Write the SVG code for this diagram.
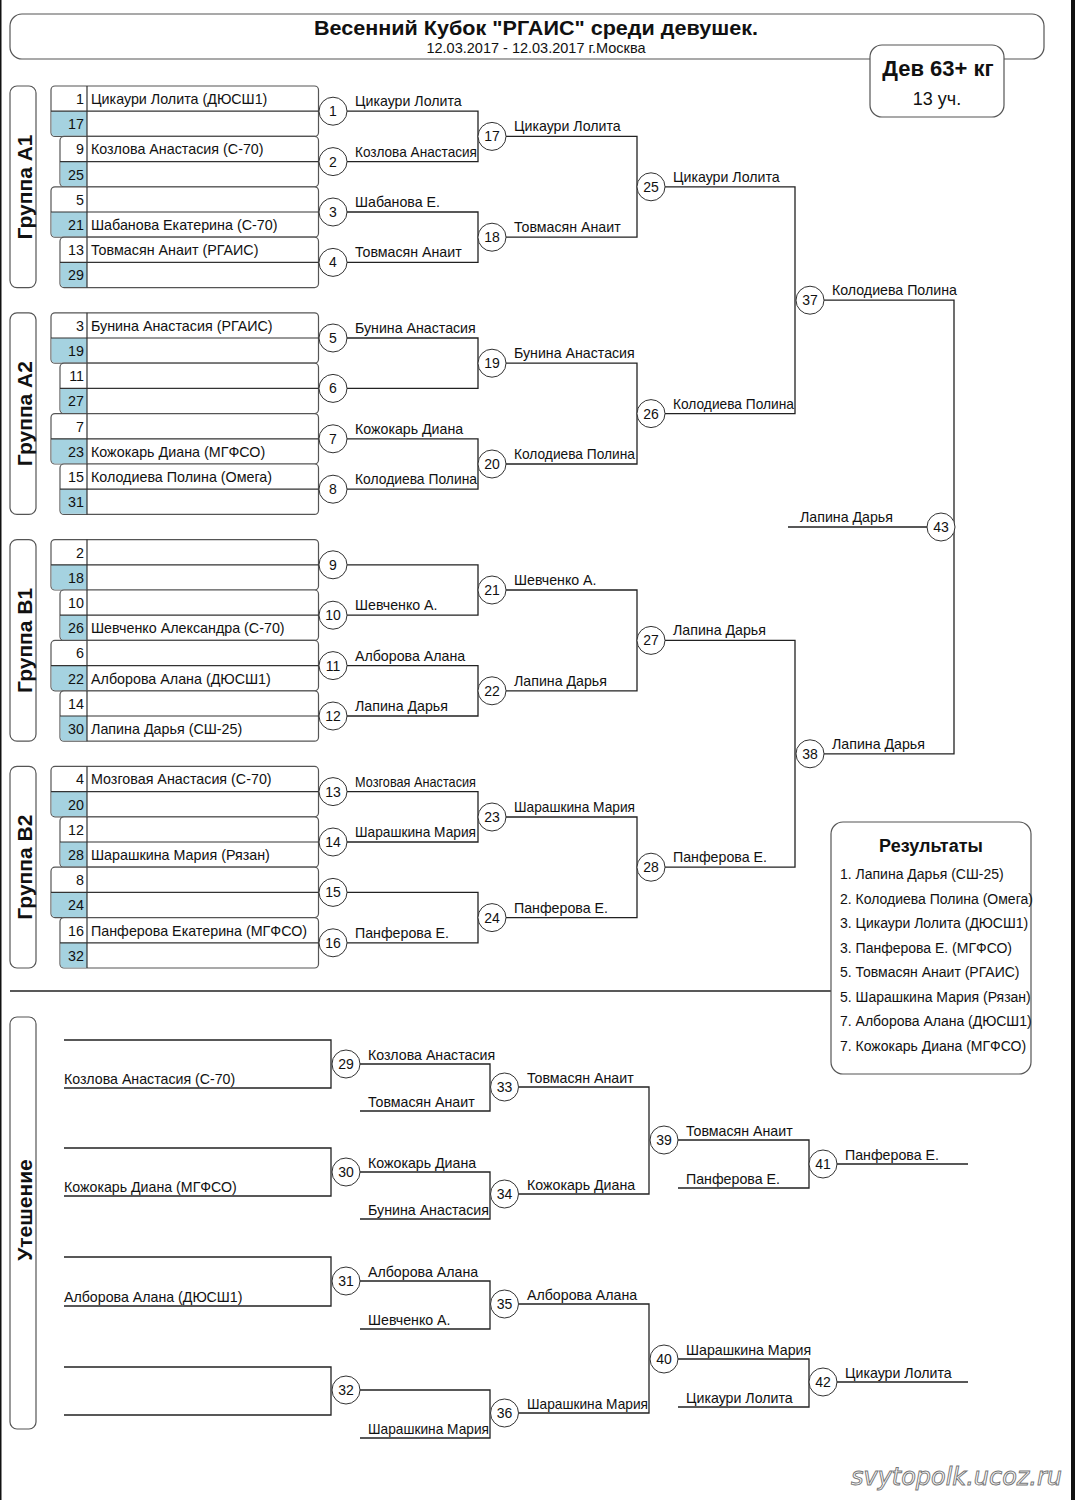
<svg xmlns="http://www.w3.org/2000/svg" width="1075" height="1500" viewBox="0 0 1075 1500">
<style>
text{font-family:"Liberation Sans",Arial,sans-serif;fill:#111}
.ln{fill:none;stroke:#222;stroke-width:1.3}
.bx{fill:#fff;stroke:#555;stroke-width:1.2}
.gb{fill:#fff;stroke:#555;stroke-width:1.2}
.bl{fill:#a5d2e0}
.dv{fill:none;stroke:#333;stroke-width:1.2}
.cir{fill:#fff;stroke:#333;stroke-width:1}
.nm{font-size:14.3px}
.rs{font-size:14px}
.num{font-size:14.3px;text-anchor:end}
.cn{font-size:14px;text-anchor:middle}
.lb{font-size:14.2px}
.gl{font-size:21px;font-weight:bold;text-anchor:middle}
</style>
<rect x="0" y="0" width="1075" height="1500" fill="#fff"/>
<rect x="0" y="0" width="1.5" height="1500" fill="#111"/>
<rect x="1071" y="0" width="4" height="1500" fill="#111"/>

<g id="header">
<rect x="10" y="14" width="1034" height="45" rx="12" fill="#fff" stroke="#555" stroke-width="1.2"/>
<text x="536" y="35" font-size="21" font-weight="bold" text-anchor="middle" textLength="444" lengthAdjust="spacingAndGlyphs">Весенний Кубок "РГАИС" среди девушек.</text>
<text x="536" y="53" font-size="14.5" text-anchor="middle">12.03.2017 - 12.03.2017 г.Москва</text>
</g>
<g id="weight">
<rect x="870" y="45" width="134" height="72" rx="12" fill="#fff" stroke="#555" stroke-width="1.2"/>
<text x="938" y="76" font-size="22" font-weight="bold" text-anchor="middle">Дев 63+ кг</text>
<text x="937" y="105" font-size="18" text-anchor="middle">13 уч.</text>
</g>

<g id="group-labels">
<rect class="gb" x="10" y="86" width="26" height="201.6" rx="7"/>
<text class="gl" transform="translate(31.5,187) rotate(-90)">Группа А1</text>
<rect class="gb" x="10" y="312.8" width="26" height="201.6" rx="7"/>
<text class="gl" transform="translate(31.5,413.6) rotate(-90)">Группа А2</text>
<rect class="gb" x="10" y="539.6" width="26" height="201.6" rx="7"/>
<text class="gl" transform="translate(31.5,640.4) rotate(-90)">Группа В1</text>
<rect class="gb" x="10" y="766.4" width="26" height="201.6" rx="7"/>
<text class="gl" transform="translate(31.5,867.2) rotate(-90)">Группа В2</text>
<rect class="gb" x="10" y="1017" width="26" height="412" rx="7"/>
<text class="gl" transform="translate(31.5,1210) rotate(-90)">Утешение</text>
</g>

<g id="group-A1">
<rect class="bx" x="51" y="86" width="267.5" height="50.4" rx="4"/>
<path class="bl" d="M51.6 111.2H87V135.8H55Q51.6 135.8 51.6 132.4Z"/>
<path class="dv" d="M51 111.2H318.5M87 86V136.4"/>
<text class="num" x="84" y="104">1</text><text class="nm" x="91" y="104">Цикаури Лолита (ДЮСШ1)</text>
<text class="num" x="84" y="129.2">17</text>
<rect class="bx" x="60" y="136.4" width="258.5" height="50.4" rx="4"/>
<path class="bl" d="M60.6 161.6H87V186.2H64Q60.6 186.2 60.6 182.8Z"/>
<path class="dv" d="M60 161.6H318.5M87 136.4V186.8"/>
<text class="num" x="84" y="154.4">9</text><text class="nm" x="91" y="154.4">Козлова Анастасия (С-70)</text>
<text class="num" x="84" y="179.6">25</text>
<rect class="bx" x="51" y="186.8" width="267.5" height="50.4" rx="4"/>
<path class="bl" d="M51.6 212H87V236.6H55Q51.6 236.6 51.6 233.2Z"/>
<path class="dv" d="M51 212H318.5M87 186.8V237.2"/>
<text class="num" x="84" y="204.8">5</text>
<text class="num" x="84" y="230">21</text><text class="nm" x="91" y="230">Шабанова Екатерина (С-70)</text>
<rect class="bx" x="60" y="237.2" width="258.5" height="50.4" rx="4"/>
<path class="bl" d="M60.6 262.4H87V287H64Q60.6 287 60.6 283.6Z"/>
<path class="dv" d="M60 262.4H318.5M87 237.2V287.6"/>
<text class="num" x="84" y="255.2">13</text><text class="nm" x="91" y="255.2">Товмасян Анаит (РГАИС)</text>
<text class="num" x="84" y="280.4">29</text>
</g>

<g id="group-A2">
<rect class="bx" x="51" y="312.8" width="267.5" height="50.4" rx="4"/>
<path class="bl" d="M51.6 338H87V362.6H55Q51.6 362.6 51.6 359.2Z"/>
<path class="dv" d="M51 338H318.5M87 312.8V363.2"/>
<text class="num" x="84" y="330.8">3</text><text class="nm" x="91" y="330.8">Бунина Анастасия (РГАИС)</text>
<text class="num" x="84" y="356">19</text>
<rect class="bx" x="60" y="363.2" width="258.5" height="50.4" rx="4"/>
<path class="bl" d="M60.6 388.4H87V413H64Q60.6 413 60.6 409.6Z"/>
<path class="dv" d="M60 388.4H318.5M87 363.2V413.6"/>
<text class="num" x="84" y="381.2">11</text>
<text class="num" x="84" y="406.4">27</text>
<rect class="bx" x="51" y="413.6" width="267.5" height="50.4" rx="4"/>
<path class="bl" d="M51.6 438.8H87V463.4H55Q51.6 463.4 51.6 460Z"/>
<path class="dv" d="M51 438.8H318.5M87 413.6V464"/>
<text class="num" x="84" y="431.6">7</text>
<text class="num" x="84" y="456.8">23</text><text class="nm" x="91" y="456.8">Кожокарь Диана (МГФСО)</text>
<rect class="bx" x="60" y="464" width="258.5" height="50.4" rx="4"/>
<path class="bl" d="M60.6 489.2H87V513.8H64Q60.6 513.8 60.6 510.4Z"/>
<path class="dv" d="M60 489.2H318.5M87 464V514.4"/>
<text class="num" x="84" y="482">15</text><text class="nm" x="91" y="482">Колодиева Полина (Омега)</text>
<text class="num" x="84" y="507.2">31</text>
</g>

<g id="group-B1">
<rect class="bx" x="51" y="539.6" width="267.5" height="50.4" rx="4"/>
<path class="bl" d="M51.6 564.8H87V589.4H55Q51.6 589.4 51.6 586Z"/>
<path class="dv" d="M51 564.8H318.5M87 539.6V590"/>
<text class="num" x="84" y="557.6">2</text>
<text class="num" x="84" y="582.8">18</text>
<rect class="bx" x="60" y="590" width="258.5" height="50.4" rx="4"/>
<path class="bl" d="M60.6 615.2H87V639.8H64Q60.6 639.8 60.6 636.4Z"/>
<path class="dv" d="M60 615.2H318.5M87 590V640.4"/>
<text class="num" x="84" y="608">10</text>
<text class="num" x="84" y="633.2">26</text><text class="nm" x="91" y="633.2">Шевченко Александра (С-70)</text>
<rect class="bx" x="51" y="640.4" width="267.5" height="50.4" rx="4"/>
<path class="bl" d="M51.6 665.6H87V690.2H55Q51.6 690.2 51.6 686.8Z"/>
<path class="dv" d="M51 665.6H318.5M87 640.4V690.8"/>
<text class="num" x="84" y="658.4">6</text>
<text class="num" x="84" y="683.6">22</text><text class="nm" x="91" y="683.6">Алборова Алана (ДЮСШ1)</text>
<rect class="bx" x="60" y="690.8" width="258.5" height="50.4" rx="4"/>
<path class="bl" d="M60.6 716H87V740.6H64Q60.6 740.6 60.6 737.2Z"/>
<path class="dv" d="M60 716H318.5M87 690.8V741.2"/>
<text class="num" x="84" y="708.8">14</text>
<text class="num" x="84" y="734">30</text><text class="nm" x="91" y="734">Лапина Дарья (СШ-25)</text>
</g>

<g id="group-B2">
<rect class="bx" x="51" y="766.4" width="267.5" height="50.4" rx="4"/>
<path class="bl" d="M51.6 791.6H87V816.2H55Q51.6 816.2 51.6 812.8Z"/>
<path class="dv" d="M51 791.6H318.5M87 766.4V816.8"/>
<text class="num" x="84" y="784.4">4</text><text class="nm" x="91" y="784.4">Мозговая Анастасия (С-70)</text>
<text class="num" x="84" y="809.6">20</text>
<rect class="bx" x="60" y="816.8" width="258.5" height="50.4" rx="4"/>
<path class="bl" d="M60.6 842H87V866.6H64Q60.6 866.6 60.6 863.2Z"/>
<path class="dv" d="M60 842H318.5M87 816.8V867.2"/>
<text class="num" x="84" y="834.8">12</text>
<text class="num" x="84" y="860">28</text><text class="nm" x="91" y="860">Шарашкина Мария (Рязан)</text>
<rect class="bx" x="51" y="867.2" width="267.5" height="50.4" rx="4"/>
<path class="bl" d="M51.6 892.4H87V917H55Q51.6 917 51.6 913.6Z"/>
<path class="dv" d="M51 892.4H318.5M87 867.2V917.6"/>
<text class="num" x="84" y="885.2">8</text>
<text class="num" x="84" y="910.4">24</text>
<rect class="bx" x="60" y="917.6" width="258.5" height="50.4" rx="4"/>
<path class="bl" d="M60.6 942.8H87V967.4H64Q60.6 967.4 60.6 964Z"/>
<path class="dv" d="M60 942.8H318.5M87 917.6V968"/>
<text class="num" x="84" y="935.6">16</text><text class="nm" x="91" y="935.6">Панферова Екатерина (МГФСО)</text>
<text class="num" x="84" y="960.8">32</text>
</g>

<g id="connectors">
<path class="ln" d="M347 111.2H478V161.6H347M347 212H478V262.4H347M347 338H478V388.4H347M347 438.8H478V489.2H347M347 564.8H478V615.2H347M347 665.6H478V716H347M347 791.6H478V842H347M347 892.4H478V942.8H347"/>
<path class="ln" d="M506 136.4H637V237.2H506M506 363.2H637V464H506M506 590H637V690.8H506M506 817H637V917.6H506"/>
<path class="ln" d="M665 186.8H795V413.6H665M665 640.4H795V867.2H665"/>
<path class="ln" d="M824 300.2H954V753.8H824M788 527H927"/>
<path class="ln" d="M10 991H831"/>
<path class="ln" d="M64 1040H331V1088H64M64 1148H331V1196H64M64 1257H331V1306H64M64 1367H331V1415H64"/>
<path class="ln" d="M360 1064H490V1111H360M360 1172H490V1219H360M360 1281H490V1329H360M360 1390H490V1438H360"/>
<path class="ln" d="M519 1087H649V1194H519M519 1304H649V1413H519"/>
<path class="ln" d="M678 1140H809V1188H678M678 1359H809V1407H678"/>
<path class="ln" d="M837 1164H968M837 1382H968"/>
</g>

<g id="labels">
<text class="lb" x="355" y="106.2">Цикаури Лолита</text>
<text class="lb" x="355" y="156.6" textLength="122" lengthAdjust="spacingAndGlyphs">Козлова Анастасия</text>
<text class="lb" x="355" y="207">Шабанова Е.</text>
<text class="lb" x="355" y="257.4">Товмасян Анаит</text>
<text class="lb" x="355" y="333">Бунина Анастасия</text>
<text class="lb" x="355" y="433.8">Кожокарь Диана</text>
<text class="lb" x="355" y="484.2" textLength="122" lengthAdjust="spacingAndGlyphs">Колодиева Полина</text>
<text class="lb" x="355" y="610.2">Шевченко А.</text>
<text class="lb" x="355" y="660.6">Алборова Алана</text>
<text class="lb" x="355" y="711">Лапина Дарья</text>
<text class="lb" x="355" y="786.6" textLength="121" lengthAdjust="spacingAndGlyphs">Мозговая Анастасия</text>
<text class="lb" x="355" y="837" textLength="121" lengthAdjust="spacingAndGlyphs">Шарашкина Мария</text>
<text class="lb" x="355" y="937.8">Панферова Е.</text>
<text class="lb" x="514" y="131.4">Цикаури Лолита</text>
<text class="lb" x="514" y="232.2">Товмасян Анаит</text>
<text class="lb" x="514" y="358.2">Бунина Анастасия</text>
<text class="lb" x="514" y="459" textLength="121" lengthAdjust="spacingAndGlyphs">Колодиева Полина</text>
<text class="lb" x="514" y="585">Шевченко А.</text>
<text class="lb" x="514" y="685.8">Лапина Дарья</text>
<text class="lb" x="514" y="812" textLength="121" lengthAdjust="spacingAndGlyphs">Шарашкина Мария</text>
<text class="lb" x="514" y="912.6">Панферова Е.</text>
<text class="lb" x="673" y="181.8">Цикаури Лолита</text>
<text class="lb" x="673" y="408.6" textLength="121" lengthAdjust="spacingAndGlyphs">Колодиева Полина</text>
<text class="lb" x="673" y="635.4">Лапина Дарья</text>
<text class="lb" x="673" y="862.2">Панферова Е.</text>
<text class="lb" x="832" y="295.2">Колодиева Полина</text>
<text class="lb" x="832" y="748.8">Лапина Дарья</text>
<text class="lb" x="800" y="522">Лапина Дарья</text>

<text class="lb" x="64" y="1084">Козлова Анастасия (С-70)</text>
<text class="lb" x="64" y="1192">Кожокарь Диана (МГФСО)</text>
<text class="lb" x="64" y="1302">Алборова Алана (ДЮСШ1)</text>
<text class="lb" x="368" y="1060">Козлова Анастасия</text>
<text class="lb" x="368" y="1107">Товмасян Анаит</text>
<text class="lb" x="368" y="1168">Кожокарь Диана</text>
<text class="lb" x="368" y="1215" textLength="121" lengthAdjust="spacingAndGlyphs">Бунина Анастасия</text>
<text class="lb" x="368" y="1277">Алборова Алана</text>
<text class="lb" x="368" y="1325">Шевченко А.</text>
<text class="lb" x="368" y="1434" textLength="121" lengthAdjust="spacingAndGlyphs">Шарашкина Мария</text>
<text class="lb" x="527" y="1083">Товмасян Анаит</text>
<text class="lb" x="527" y="1190">Кожокарь Диана</text>
<text class="lb" x="527" y="1300">Алборова Алана</text>
<text class="lb" x="527" y="1409" textLength="121" lengthAdjust="spacingAndGlyphs">Шарашкина Мария</text>
<text class="lb" x="686" y="1136">Товмасян Анаит</text>
<text class="lb" x="686" y="1184">Панферова Е.</text>
<text class="lb" x="686" y="1355">Шарашкина Мария</text>
<text class="lb" x="686" y="1403">Цикаури Лолита</text>
<text class="lb" x="845" y="1160">Панферова Е.</text>
<text class="lb" x="845" y="1378">Цикаури Лолита</text>
</g>

<g id="circles">
<circle class="cir" cx="333" cy="111.2" r="14"/><text class="cn" x="333" y="116.2">1</text>
<circle class="cir" cx="333" cy="161.6" r="14"/><text class="cn" x="333" y="166.6">2</text>
<circle class="cir" cx="333" cy="212" r="14"/><text class="cn" x="333" y="217">3</text>
<circle class="cir" cx="333" cy="262.4" r="14"/><text class="cn" x="333" y="267.4">4</text>
<circle class="cir" cx="333" cy="338" r="14"/><text class="cn" x="333" y="343">5</text>
<circle class="cir" cx="333" cy="388.4" r="14"/><text class="cn" x="333" y="393.4">6</text>
<circle class="cir" cx="333" cy="438.8" r="14"/><text class="cn" x="333" y="443.8">7</text>
<circle class="cir" cx="333" cy="489.2" r="14"/><text class="cn" x="333" y="494.2">8</text>
<circle class="cir" cx="333" cy="564.8" r="14"/><text class="cn" x="333" y="569.8">9</text>
<circle class="cir" cx="333" cy="615.2" r="14"/><text class="cn" x="333" y="620.2">10</text>
<circle class="cir" cx="333" cy="665.6" r="14"/><text class="cn" x="333" y="670.6">11</text>
<circle class="cir" cx="333" cy="716" r="14"/><text class="cn" x="333" y="721">12</text>
<circle class="cir" cx="333" cy="791.6" r="14"/><text class="cn" x="333" y="796.6">13</text>
<circle class="cir" cx="333" cy="842" r="14"/><text class="cn" x="333" y="847">14</text>
<circle class="cir" cx="333" cy="892.4" r="14"/><text class="cn" x="333" y="897.4">15</text>
<circle class="cir" cx="333" cy="942.8" r="14"/><text class="cn" x="333" y="947.8">16</text>
<circle class="cir" cx="492" cy="136.4" r="14"/><text class="cn" x="492" y="141.4">17</text>
<circle class="cir" cx="492" cy="237.2" r="14"/><text class="cn" x="492" y="242.2">18</text>
<circle class="cir" cx="492" cy="363.2" r="14"/><text class="cn" x="492" y="368.2">19</text>
<circle class="cir" cx="492" cy="464" r="14"/><text class="cn" x="492" y="469">20</text>
<circle class="cir" cx="492" cy="590" r="14"/><text class="cn" x="492" y="595">21</text>
<circle class="cir" cx="492" cy="690.8" r="14"/><text class="cn" x="492" y="695.8">22</text>
<circle class="cir" cx="492" cy="817" r="14"/><text class="cn" x="492" y="822">23</text>
<circle class="cir" cx="492" cy="917.6" r="14"/><text class="cn" x="492" y="922.6">24</text>
<circle class="cir" cx="651" cy="186.8" r="14"/><text class="cn" x="651" y="191.8">25</text>
<circle class="cir" cx="651" cy="413.6" r="14"/><text class="cn" x="651" y="418.6">26</text>
<circle class="cir" cx="651" cy="640.4" r="14"/><text class="cn" x="651" y="645.4">27</text>
<circle class="cir" cx="651" cy="867.2" r="14"/><text class="cn" x="651" y="872.2">28</text>
<circle class="cir" cx="810" cy="300.2" r="14"/><text class="cn" x="810" y="305.2">37</text>
<circle class="cir" cx="810" cy="753.8" r="14"/><text class="cn" x="810" y="758.8">38</text>
<circle class="cir" cx="941" cy="527" r="14"/><text class="cn" x="941" y="532">43</text>
<circle class="cir" cx="346" cy="1064" r="14"/><text class="cn" x="346" y="1069">29</text>
<circle class="cir" cx="346" cy="1172" r="14"/><text class="cn" x="346" y="1177">30</text>
<circle class="cir" cx="346" cy="1281" r="14"/><text class="cn" x="346" y="1286">31</text>
<circle class="cir" cx="346" cy="1390" r="14"/><text class="cn" x="346" y="1395">32</text>
<circle class="cir" cx="504.5" cy="1087" r="14"/><text class="cn" x="504.5" y="1092">33</text>
<circle class="cir" cx="504.5" cy="1194" r="14"/><text class="cn" x="504.5" y="1199">34</text>
<circle class="cir" cx="504.5" cy="1304" r="14"/><text class="cn" x="504.5" y="1309">35</text>
<circle class="cir" cx="504.5" cy="1413" r="14"/><text class="cn" x="504.5" y="1418">36</text>
<circle class="cir" cx="664" cy="1140" r="14"/><text class="cn" x="664" y="1145">39</text>
<circle class="cir" cx="664" cy="1359" r="14"/><text class="cn" x="664" y="1364">40</text>
<circle class="cir" cx="823" cy="1164" r="14"/><text class="cn" x="823" y="1169">41</text>
<circle class="cir" cx="823" cy="1382" r="14"/><text class="cn" x="823" y="1387">42</text>
</g>

<g id="results">
<rect x="831" y="822" width="200" height="252" rx="12" fill="#fff" stroke="#555" stroke-width="1.2"/>
<text x="931" y="852" font-size="18" font-weight="bold" text-anchor="middle">Результаты</text>
<text class="rs" x="840" y="879">1. Лапина Дарья (СШ-25)</text>
<text class="rs" x="840" y="904">2. Колодиева Полина (Омега)</text>
<text class="rs" x="840" y="928">3. Цикаури Лолита (ДЮСШ1)</text>
<text class="rs" x="840" y="953">3. Панферова Е. (МГФСО)</text>
<text class="rs" x="840" y="977">5. Товмасян Анаит (РГАИС)</text>
<text class="rs" x="840" y="1002">5. Шарашкина Мария (Рязан)</text>
<text class="rs" x="840" y="1026">7. Алборова Алана (ДЮСШ1)</text>
<text class="rs" x="840" y="1051">7. Кожокарь Диана (МГФСО)</text>
</g>

<text x="851" y="1485" font-style="italic" font-size="25" textLength="211" lengthAdjust="spacingAndGlyphs" style="font-family:'DejaVu Sans',sans-serif;fill:#fff;stroke:#777;stroke-width:1">svytopolk.ucoz.ru</text>
</svg>
